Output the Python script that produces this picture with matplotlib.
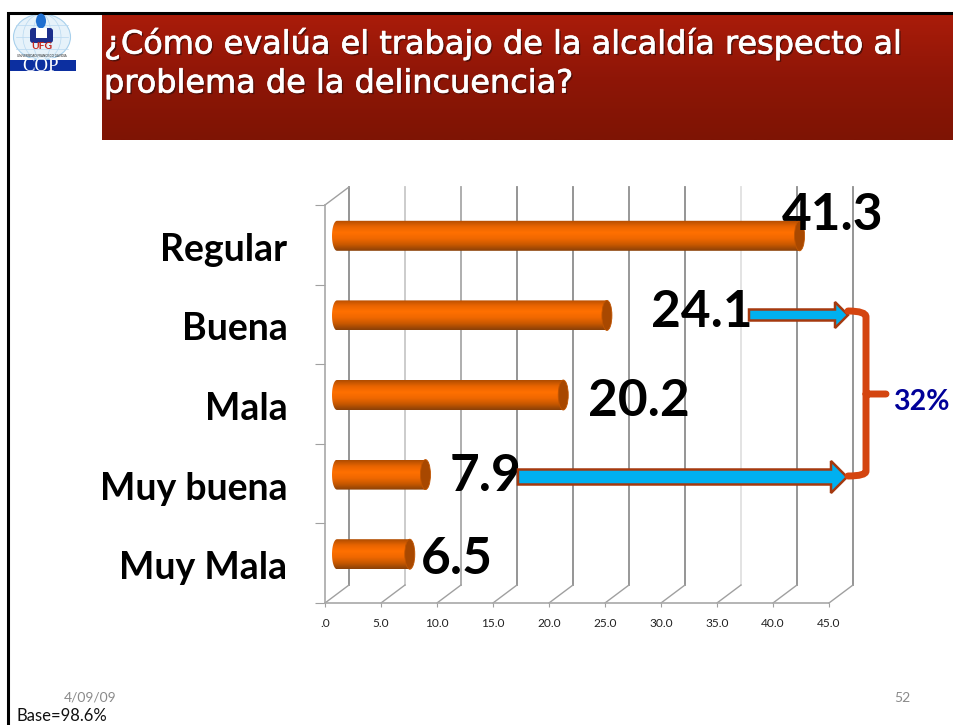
import matplotlib

matplotlib.use("Agg")
import matplotlib.patheffects as pe
import matplotlib.pyplot as plt
import numpy as np
from matplotlib.colors import LinearSegmentedColormap
from matplotlib.patches import Ellipse, FancyBboxPatch, PathPatch, Polygon, Rectangle
from matplotlib.path import Path
from matplotlib.transforms import Affine2D

categories = ["Regular", "Buena", "Mala", "Muy buena", "Muy Mala"]
values = [41.3, 24.1, 20.2, 7.9, 6.5]
x_ticks = [0, 5, 10, 15, 20, 25, 30, 35, 40, 45]
x_tick_labels = [".0", "5.0", "10.0", "15.0", "20.0", "25.0", "30.0", "35.0", "40.0", "45.0"]
title_lines = ["¿Cómo evalúa el trabajo de la alcaldía respecto al", "problema de la delincuencia?"]
bracket_label = "32%"
base_label = "Base=98.6%"
date_label = "4/09/09"
page_label = "52"

W, H = 954, 725
PX_X = 504 / 45  # px per x unit
PX_Y = 398 / 5  # px per category
grid_colors = ["#8c8c8c", "#c8c8c8", "#a8a8a8", "#8c8c8c", "#8c8c8c",
               "#909090", "#8c8c8c", "#e0e0e0", "#8c8c8c", "#8c8c8c"]
# label offset from the bar end, in pixels
label_offsets = [(33, 20), (95, 3), (76, -7), (60, -2), (47, -5)]

bar_cmap = LinearSegmentedColormap.from_list(
    "bar", ["#b04c00", "#e86400", "#ff7000", "#f06800", "#c85800", "#8a4008"]
)
band_cmap = LinearSegmentedColormap.from_list("band", ["#aa1c0a", "#8f1607", "#7e1404"])

plt.rcParams["font.family"] = ["Lato", "DejaVu Sans"]
fig = plt.figure(figsize=(W / 100, H / 100), dpi=100, facecolor="white")

# chart axes: the front plane of the fake 3d box
ax = fig.add_axes([325 / W, (H - 603) / H, 504 / W, 398 / H], facecolor="none")
ax.set_xlim(0, 45)
ax.set_ylim(-0.5, 4.5)
depth_x, depth_y = 24 / PX_X, 18 / PX_Y

for v, c in zip(x_ticks, grid_colors):
    ax.plot([v + depth_x, v + depth_x], [-0.5 + depth_y, 4.5 + depth_y], color=c, lw=1.3,
            clip_on=False, zorder=1)
    ax.plot([v, v + depth_x], [-0.5, -0.5 + depth_y], color="#a0a0a0", lw=1.0, clip_on=False, zorder=1)
ax.plot([0, depth_x], [4.5, 4.5 + depth_y], color="#a0a0a0", lw=1.0, clip_on=False, zorder=1)

# cylinders
off_x, off_y = 12 / PX_X, 9 / PX_Y
cap_w, half_h = 5 / PX_X, 15 / PX_Y
grad = np.linspace(0, 1, 64).reshape(-1, 1)
t = np.linspace(np.pi / 2, 3 * np.pi / 2, 30)
for i, val in enumerate(values):
    yc = len(values) - 1 - i + off_y
    x0, x1 = off_x, val + off_x
    left = np.c_[x0 + cap_w * np.cos(t), yc + half_h * np.sin(t)]
    outline = np.vstack([[x1, yc + half_h], left, [x1, yc - half_h]])
    body = Polygon(outline, closed=True, transform=ax.transData, facecolor="none", edgecolor="none")
    ax.add_patch(body)
    im = ax.imshow(grad, cmap=bar_cmap, aspect="auto", origin="upper", zorder=3,
                   extent=(x0 - cap_w, x1, yc - half_h, yc + half_h))
    im.set_clip_path(body)
    ax.add_patch(Ellipse((x1, yc), 2 * cap_w, 2 * half_h, facecolor="#a84800", edgecolor="#c05400",
                         lw=0.6, zorder=4))
    dx, dy = label_offsets[i]
    ax.annotate(f"{val:.1f}", (x1, yc), xytext=(dx, dy), textcoords="offset pixels", fontsize=37,
                fontweight="bold", ha="center", va="center", color="black", zorder=8, annotation_clip=False)
ax.set_xlim(0, 45)
ax.set_ylim(-0.5, 4.5)

for s in ("top", "right"):
    ax.spines[s].set_visible(False)
for s in ("left", "bottom"):
    ax.spines[s].set_color("#a8a8a8")
    ax.spines[s].set_linewidth(1.2)
ax.set_xticks(x_ticks, x_tick_labels, fontsize=8.6, color="#222222")
ax.tick_params(axis="x", length=3, width=0.8, color="#a0a0a0", pad=7.5)
ax.set_yticks(np.arange(-0.5, 5), [""] * 6)
ax.tick_params(axis="y", which="major", length=7.2, width=0.8, color="#a0a0a0")
ax.set_yticks(np.arange(len(categories)), categories[::-1], minor=True, fontsize=27, fontweight="bold",
              va="center_baseline")
ax.tick_params(axis="y", which="minor", length=0, pad=27)
for lab in ax.get_yticklabels(minor=True):
    lab.set_transform(lab.get_transform() + Affine2D().translate(0, -2))

# slide furniture and annotations in pixel coordinates
ov = fig.add_axes([0, 0, 1, 1], facecolor="none", zorder=5)
ov.set_xlim(0, W)
ov.set_ylim(H, 0)
ov.axis("off")

ov.imshow(np.linspace(0, 1, 64).reshape(-1, 1), cmap=band_cmap, aspect="auto",
          extent=(102, 954, 140, 13), zorder=1)
ov.set_xlim(0, W)
ov.set_ylim(H, 0)
ov.plot([8.5, 8.5, 954], [725, 12.5, 12.5], color="black", lw=2.2, solid_joinstyle="miter", zorder=3)

for line, y in zip(title_lines, (44, 84)):
    ov.text(104, y, line, fontsize=23, fontfamily="DejaVu Sans", color="white", va="center", ha="left",
            zorder=4, path_effects=[pe.SimplePatchShadow(offset=(1.2, -1.2), shadow_rgbFace="#50100a", alpha=1),
                                    pe.withStroke(linewidth=0.5, foreground="white")])

# logo
ov.add_patch(Ellipse((42, 37), 57, 46, facecolor="#e6f2fa", edgecolor="#a8d0ec", lw=0.8, zorder=2))
for w in (38, 18):
    ov.add_patch(Ellipse((42, 37), w, 46, facecolor="none", edgecolor="#b8d8f0", lw=0.5, zorder=2))
for yy in (25, 37, 49):
    ov.plot([16, 68], [yy, yy], color="#b8d8f0", lw=0.5, zorder=2)
ov.add_patch(Ellipse((41, 21), 10, 15, facecolor="#1f6fd0", edgecolor="none", zorder=3))
ov.add_patch(FancyBboxPatch((30, 28), 23, 15, boxstyle="round,pad=0,rounding_size=3", facecolor="#1c2f8c",
                            edgecolor="none", zorder=3))
ov.add_patch(Rectangle((36, 28), 11, 10, facecolor="white", edgecolor="none", zorder=3))
ov.text(41.5, 46.5, "UFG", fontsize=7.5, fontweight="bold", color="#c8281e", ha="center", va="center", zorder=4)
ov.text(42, 55.5, "UNIVERSIDAD FRANCISCO GAVIDIA", fontsize=2.2, color="#222222", ha="center", va="center", zorder=4)
ov.add_patch(Rectangle((10, 60), 66, 11, facecolor="#0c2fa0", edgecolor="none", zorder=3))
ov.text(41, 66, "COP", fontsize=13.5, fontfamily="Liberation Serif", color="white", ha="center",
        va="center", zorder=4)


def block_arrow(x0, x1, y, shaft, head, head_len):
    pts = [(x0, y - shaft), (x1 - head_len, y - shaft), (x1 - head_len, y - head), (x1, y),
           (x1 - head_len, y + head), (x1 - head_len, y + shaft), (x0, y + shaft)]
    ov.add_patch(Polygon(pts, closed=True, facecolor="#00b0f0", edgecolor="#a5390f", lw=1.8,
                         joinstyle="miter", zorder=4))


block_arrow(749, 848, 315, 5.5, 13, 13)
block_arrow(518, 847, 477, 7.5, 16, 16)

codes = [Path.MOVETO, Path.CURVE3, Path.CURVE3, Path.LINETO, Path.CURVE3, Path.CURVE3,
         Path.MOVETO, Path.LINETO]
verts = [(848, 311), (866, 311), (866, 317), (866, 471), (866, 476), (848, 476), (866, 394), (886, 394)]
ov.add_patch(PathPatch(Path(verts, codes), facecolor="none", edgecolor="#d44510", lw=5, capstyle="round", zorder=5))
ov.text(921, 402, bracket_label, fontsize=20.5, fontweight="bold", color="#000099", ha="center", va="center", zorder=6)

ov.text(90, 698, date_label, fontsize=10, color="#8a8a8a", ha="center", va="center")
ov.text(902, 698, page_label, fontsize=10, color="#8a8a8a", ha="center", va="center")
ov.text(17, 716, base_label, fontsize=12, color="#111111", ha="left", va="center")

fig.savefig("out.png", dpi=100)
